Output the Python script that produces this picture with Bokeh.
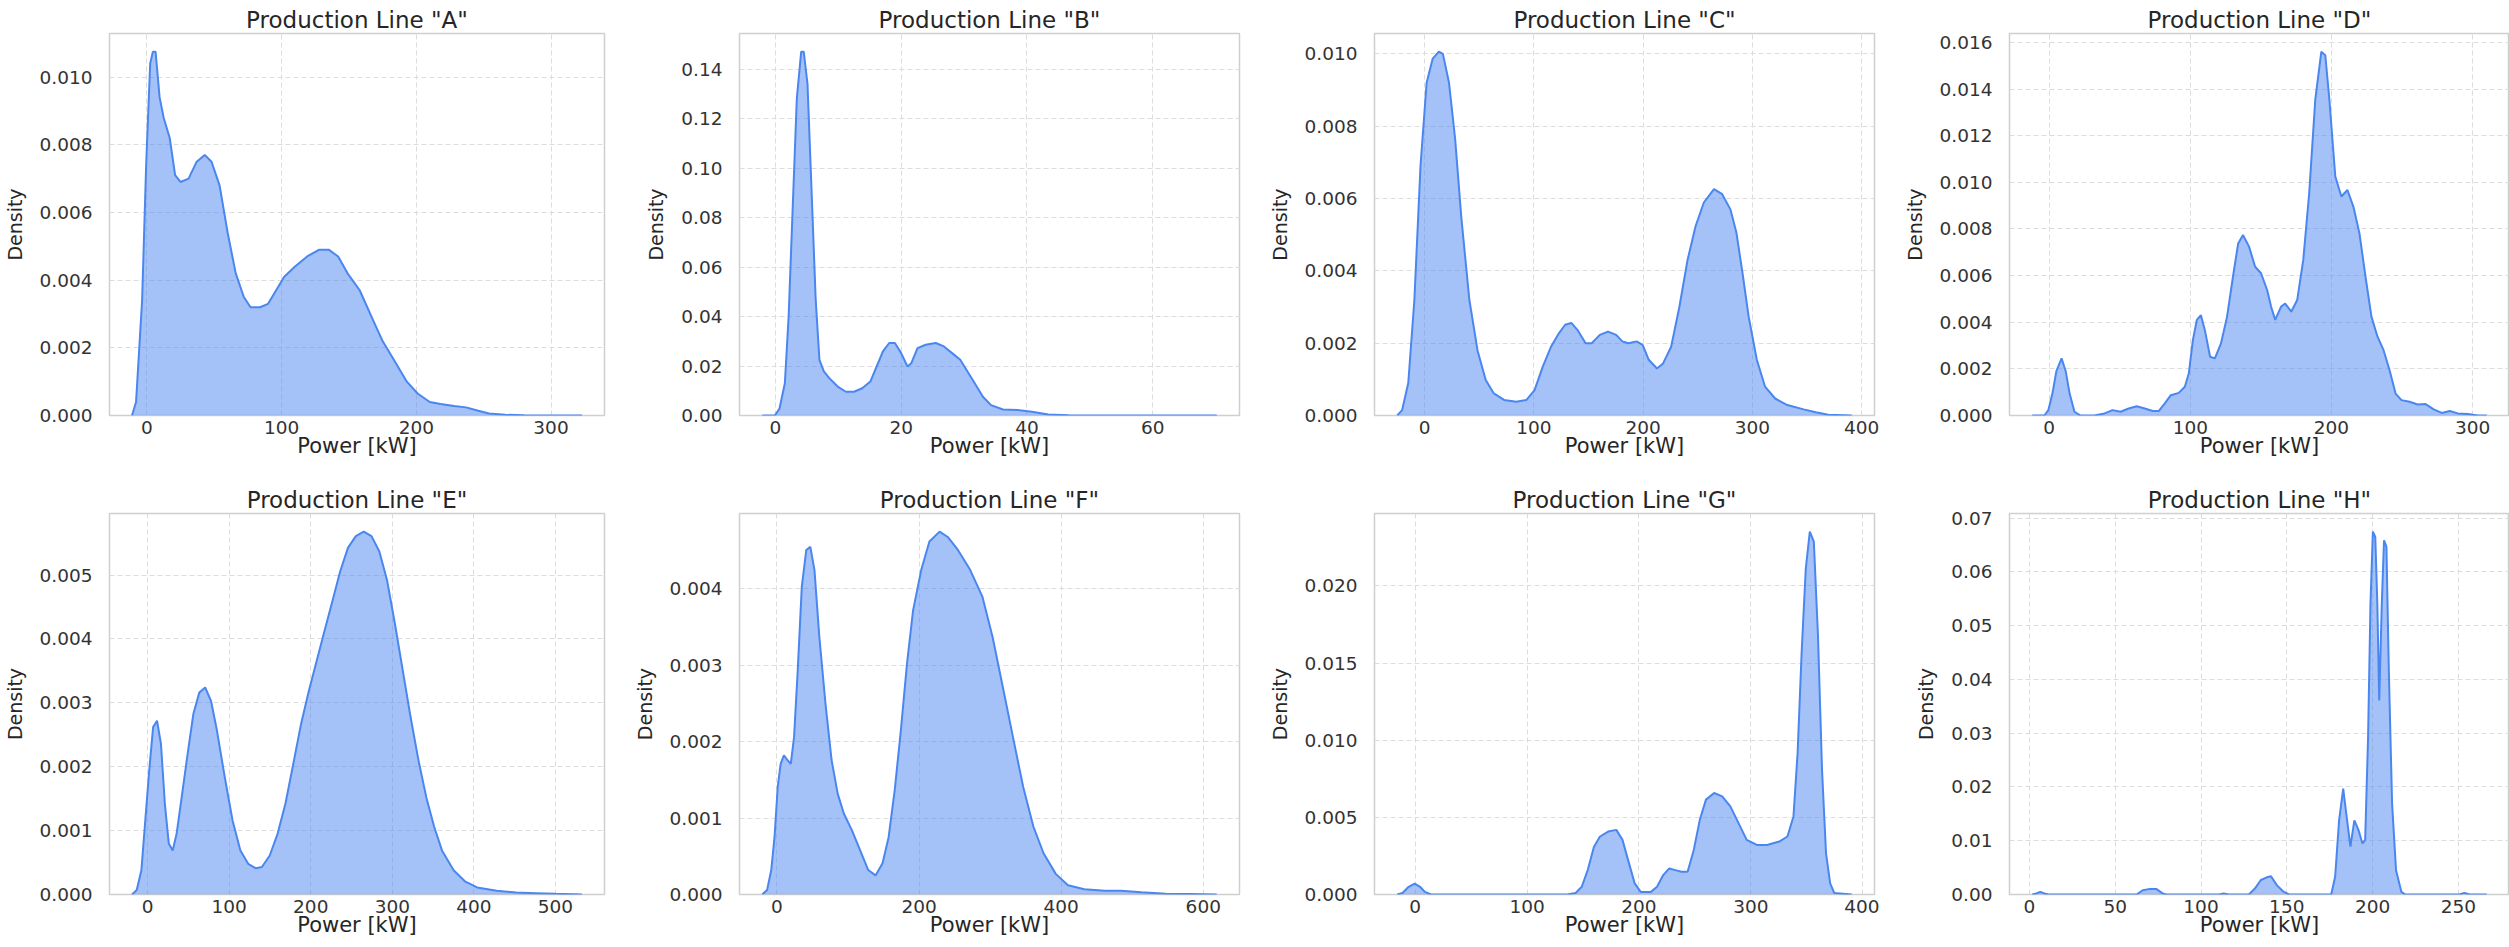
from bokeh.plotting import figure
from bokeh.layouts import column, row
from bokeh.models import Range1d, FixedTicker, PrintfTickFormatter
from bokeh.embed import file_html
from bokeh.resources import INLINE

# ---------------- data ----------------
lines = ["A", "B", "C", "D", "E", "F", "G", "H"]

A_power = [-11, -8, -3.5, -0.5, 2.5, 4.5, 6.5, 9.5, 12.5, 17, 21, 25, 31, 37, 43, 48, 54, 60, 66, 72,
           77, 84, 90, 96, 102, 110, 119, 128, 135, 142, 149, 158, 167, 175, 184, 193, 201, 210, 218,
           228, 237, 246, 254, 266, 280, 300, 323]
A_density = [0, 0.0004, 0.0034, 0.0074, 0.0104, 0.01075, 0.01075, 0.0094, 0.0088, 0.0082, 0.0071,
             0.0069, 0.0070, 0.0075, 0.0077, 0.0075, 0.0068, 0.0054, 0.0042, 0.0035, 0.0032, 0.0032,
             0.0033, 0.0037, 0.0041, 0.0044, 0.0047, 0.0049, 0.0049, 0.0047, 0.0042, 0.0037, 0.0029,
             0.0022, 0.0016, 0.0010, 0.00065, 0.0004, 0.00034, 0.00028, 0.00024, 0.00014, 0.00006,
             0.00002, 0.00001, 0, 0]

B_power = [-2.1, -0.1, 0.65, 1.5, 2.1, 2.8, 3.4, 4.1, 4.5, 5.1, 5.7, 6.4, 7.0, 7.7, 8.6, 9.9, 11.2,
           12.5, 13.8, 15.1, 16.1, 17.1, 18.1, 19.0, 20, 21, 21.6, 22.6, 23.9, 25.5, 26.8, 28.1, 29.4,
           30.4, 31.7, 33.0, 34.3, 36.2, 38.5, 40.8, 43.4, 46.6, 53, 70.2]
B_density = [0, 0, 0.0028, 0.013, 0.040, 0.0875, 0.128, 0.147, 0.147, 0.134, 0.094, 0.047, 0.0225,
             0.0178, 0.015, 0.0117, 0.0096, 0.0096, 0.011, 0.0137, 0.0198, 0.0259, 0.0293, 0.0293,
             0.0252, 0.0198, 0.0211, 0.0272, 0.0286, 0.0293, 0.0279, 0.0252, 0.0225, 0.0184, 0.013,
             0.0076, 0.0042, 0.0024, 0.0022, 0.0015, 0.0004, 0.0001, 0, 0]

C_power = [-25, -20.5, -14.9, -9.3, -3.7, 1.9, 7.5, 13.1, 16.8, 22.4, 28, 33.6, 41, 48.5, 56, 63.4,
           72.8, 84, 93.3, 100.7, 108.2, 115.7, 123.1, 128.7, 134.3, 139.9, 147.4, 153, 160.4, 167.9,
           175.4, 181, 186.6, 194, 199.6, 205.2, 212.7, 218.3, 225.7, 233.2, 240.7, 248.1, 255.6,
           264.9, 272.4, 279.9, 285.4, 291, 296.6, 304.1, 311.6, 320.9, 332, 347, 358, 369.4, 391]
C_density = [0, 0.00015, 0.0009, 0.0032, 0.0069, 0.0092, 0.00987, 0.01006, 0.0100, 0.0092, 0.00765,
             0.0055, 0.0032, 0.0018, 0.00098, 0.00061, 0.00043, 0.00038, 0.00043, 0.0007, 0.00135,
             0.0019, 0.00228, 0.00251, 0.00256, 0.00237, 0.0020, 0.0020, 0.00223, 0.00232, 0.00223,
             0.00205, 0.0020, 0.00205, 0.00195, 0.00154, 0.0013, 0.00144, 0.0019, 0.0030, 0.0043,
             0.00524, 0.00589, 0.00626, 0.00612, 0.0057, 0.00506, 0.00394, 0.00274, 0.00154, 0.0008,
             0.00047, 0.00029, 0.00017, 0.00009, 0.00002, 0]

D_power = [-12, -3.4, -0.6, 2.3, 5.1, 8.8, 11.7, 14.5, 17.9, 22.2, 32, 39.2, 44.9, 50.6, 56.3, 62,
           67.7, 73.4, 77.6, 81.9, 86.2, 91.8, 96.1, 98.9, 101.8, 104.6, 107.5, 110.3, 114, 117.4,
           121.7, 126, 130.2, 133.9, 137.3, 141.6, 145.9, 150.1, 154.4, 157.2, 160.1, 164.3, 167.2,
           171.5, 175.7, 180, 184.2, 188.5, 192.8, 195.6, 198.5, 202.7, 207, 211.3, 215.5, 219.8,
           224.1, 228.3, 232.6, 236.9, 241.1, 245.4, 249.6, 255.3, 261, 266.7, 272.4, 278.1, 283.8,
           289.5, 296.6, 303.7, 310]
D_density = [0, 0, 0.00023, 0.00094, 0.0019, 0.00245, 0.0019, 0.00094, 0.00016, 0, 0, 0.00009,
             0.00023, 0.00016, 0.0003, 0.0004, 0.0003, 0.00019, 0.00019, 0.00052, 0.00087, 0.00097,
             0.00123, 0.0018, 0.00323, 0.0041, 0.0043, 0.00366, 0.00252, 0.00245, 0.00309, 0.00423,
             0.00595, 0.00738, 0.00774, 0.00724, 0.00638, 0.0061, 0.00538, 0.00467, 0.0041, 0.00467,
             0.0048, 0.00445, 0.00495, 0.00667, 0.00953, 0.01354, 0.0156, 0.01545, 0.01354, 0.01025,
             0.00939, 0.00967, 0.00896, 0.00781, 0.00595, 0.00424, 0.00338, 0.0028, 0.00195, 0.00094,
             0.00066, 0.00059, 0.00047, 0.00049, 0.00026, 0.00011, 0.00019, 0.00009, 0.00006, 0, 0]

E_power = [-19.2, -13.4, -7.7, -2.9, 1.9, 6.7, 11.5, 16.3, 21.1, 25.9, 30.7, 35.5, 41.7, 49, 56.1,
           63.3, 70.5, 77.7, 84.9, 94.5, 104.1, 113.7, 123.3, 132.9, 140.1, 149.7, 159.3, 168.9,
           178.5, 188.1, 197.7, 207.3, 216.9, 226.5, 236.1, 245.7, 255.3, 264.9, 274.5, 284.1, 293.7,
           303.3, 312.9, 322.5, 332.1, 341.7, 351.3, 360.9, 375.2, 389.6, 404, 428, 452, 476, 500,
           532.6]
E_density = [0, 0.00007, 0.00038, 0.00116, 0.00194, 0.00262, 0.00272, 0.00236, 0.00142, 0.0008,
             0.00069, 0.00095, 0.00152, 0.0022, 0.00283, 0.00316, 0.00324, 0.00303, 0.00257, 0.00184,
             0.00116, 0.00069, 0.00048, 0.00041, 0.00043, 0.00061, 0.00095, 0.00142, 0.00204,
             0.00267, 0.00319, 0.00366, 0.00413, 0.00459, 0.00506, 0.00543, 0.00561, 0.00568,
             0.00561, 0.00537, 0.00491, 0.00423, 0.0035, 0.00277, 0.0021, 0.00152, 0.00106, 0.00069,
             0.00038, 0.0002, 0.00011, 0.00006, 0.00003, 0.00002, 0.00001, 0]

F_power = [-20.7, -13.8, -8, -3.4, 1.1, 5.2, 9.8, 14.9, 19.5, 24.1, 29.3, 35, 41.3, 47, 52.8, 59.7,
           68.3, 76.9, 85.5, 94.1, 105.6, 117, 128.5, 138.8, 148.6, 157.2, 165.8, 174.4, 183, 191.6,
           203.1, 214.6, 228.9, 240.4, 254.7, 271.9, 289.1, 303.5, 317.8, 332.2, 346.5, 360.9, 375.2,
           392.4, 409.6, 432.6, 461.3, 484.2, 512.9, 547.3, 581.7, 619]
F_density = [0, 0.00006, 0.00032, 0.00075, 0.00141, 0.00171, 0.00182, 0.00176, 0.00171, 0.00206,
             0.00294, 0.00403, 0.00451, 0.00455, 0.00425, 0.00337, 0.0025, 0.00176, 0.00132, 0.00106,
             0.00084, 0.00058, 0.00032, 0.00025, 0.00041, 0.00075, 0.00137, 0.00215, 0.00302,
             0.00372, 0.00425, 0.00462, 0.00475, 0.00468, 0.00451, 0.00425, 0.0039, 0.00337, 0.00272,
             0.00206, 0.00141, 0.00089, 0.00054, 0.00027, 0.00012, 0.00007, 0.00005, 0.00005,
             0.00003, 0.00001, 0.000005, 0]

G_power = [-16, -11.3, -5.8, -0.4, 4.4, 8.7, 14.2, 136, 143.4, 148.9, 154.3, 159.8, 165.2, 172.5,
           179.8, 185.3, 190.7, 196.2, 201.6, 210.7, 216.2, 221.7, 227.1, 232.6, 238, 243.5, 249,
           254.4, 259.9, 267.2, 274.4, 281.7, 289, 296.3, 305.4, 314.5, 325.4, 332.7, 338.1, 341.8,
           345.4, 349.1, 352.7, 356.3, 360, 363.6, 367.2, 370.9, 374.5, 390.2]
G_density = [0, 0.0001, 0.0005, 0.0007, 0.0005, 0.00017, 0, 0, 0.0001, 0.0005, 0.0016, 0.0031,
             0.00376, 0.00408, 0.00419, 0.00354, 0.00213, 0.00072, 0.00017, 0.00017, 0.0005, 0.00126,
             0.00169, 0.00158, 0.00148, 0.00148, 0.00289, 0.00484, 0.00615, 0.00658, 0.00636, 0.00571,
             0.00463, 0.00354, 0.00321, 0.00321, 0.00343, 0.00376, 0.00506, 0.00919, 0.0157, 0.02113,
             0.02352, 0.02287, 0.01679, 0.0081, 0.00267, 0.00072, 0.0001, 0]

H_power = [1.6, 4, 6.3, 8.7, 11, 62.4, 66, 69.5, 74.1, 77.6, 80, 110.4, 113.2, 116.2, 127.9, 131.4,
           134.9, 138.4, 140.8, 144.3, 147.8, 151.3, 175.9, 178.2, 180.5, 182.9, 184.7, 187.1, 189.4,
           191.8, 194.1, 195.7, 197.4, 198.8, 200.2, 201.6, 202.8, 203.9, 205.4, 206.7, 208.1, 209.5,
           211.4, 213.7, 216.8, 219.1, 250.7, 253.5, 256.5, 266.6]
H_density = [0, 0.0002, 0.0005, 0.0002, 0, 0, 0.0008, 0.001, 0.001, 0.0002, 0, 0, 0.0002, 0, 0,
             0.0011, 0.0027, 0.0032, 0.0034, 0.0017, 0.0006, 0, 0, 0.0033, 0.0138, 0.0197, 0.015,
             0.0089, 0.0138, 0.012, 0.0095, 0.0101, 0.0293, 0.0541, 0.0675, 0.0665, 0.0541, 0.0361,
             0.0541, 0.0659, 0.0647, 0.0417, 0.0169, 0.0045, 0.0005, 0, 0, 0.0003, 0, 0]

# tick values per panel
x_ticks = {
    "A": [0, 100, 200, 300], "B": [0, 20, 40, 60], "C": [0, 100, 200, 300, 400],
    "D": [0, 100, 200, 300], "E": [0, 100, 200, 300, 400, 500], "F": [0, 200, 400, 600],
    "G": [0, 100, 200, 300, 400], "H": [0, 50, 100, 150, 200, 250],
}
y_ticks = {
    "A": [0, 0.002, 0.004, 0.006, 0.008, 0.010],
    "B": [0, 0.02, 0.04, 0.06, 0.08, 0.10, 0.12, 0.14],
    "C": [0, 0.002, 0.004, 0.006, 0.008, 0.010],
    "D": [0, 0.002, 0.004, 0.006, 0.008, 0.010, 0.012, 0.014, 0.016],
    "E": [0, 0.001, 0.002, 0.003, 0.004, 0.005],
    "F": [0, 0.001, 0.002, 0.003, 0.004],
    "G": [0, 0.005, 0.010, 0.015, 0.020],
    "H": [0, 0.01, 0.02, 0.03, 0.04, 0.05, 0.06, 0.07],
}
y_label_format = {"A": "%.3f", "B": "%.2f", "C": "%.3f", "D": "%.3f",
                  "E": "%.3f", "F": "%.3f", "G": "%.3f", "H": "%.2f"}

series = {
    "A": (A_power, A_density), "B": (B_power, B_density), "C": (C_power, C_density),
    "D": (D_power, D_density), "E": (E_power, E_density), "F": (F_power, F_density),
    "G": (G_power, G_density), "H": (H_power, H_density),
}

# ---------------- styling ----------------
LINE = "#4a86f0"
FRAME_W = 500
FONT = "DejaVu Sans"


def make_panel(name, col, top_row):
    xs, ys = series[name]
    span = max(xs) - min(xs)
    xr = Range1d(min(xs) - 0.05 * span, max(xs) + 0.05 * span)
    yr = Range1d(0, 1.05 * max(ys))

    left = 104 if col == 0 else 130
    right = 0 if col == 3 else 5
    if top_row:
        top, frame_h, bottom = 33, 382, 53
    else:
        top, frame_h, bottom = 45, 381, 53

    p = figure(width=left + FRAME_W + right, height=top + frame_h + bottom,
               x_range=xr, y_range=yr, output_backend="svg", toolbar_location=None,
               min_border_left=left, min_border_right=right,
               min_border_top=top, min_border_bottom=bottom,
               title='Production Line "%s"' % name)
    p.title.align = "center"
    p.title.text_font = FONT
    p.title.text_font_size = "23px"
    p.title.text_font_style = "normal"
    p.title.text_color = "#262626"
    p.title.standoff = 2

    p.varea(x=xs, y1=[0] * len(xs), y2=ys, fill_color=LINE, fill_alpha=0.5)
    p.line(x=xs, y=ys, line_color=LINE, line_width=2)

    p.background_fill_color = "white"
    p.border_fill_color = "white"
    p.outline_line_color = "#cfcfcf"
    p.outline_line_width = 1.5

    for g in (p.xgrid, p.ygrid):
        g.grid_line_color = "#dcdcdc"
        g.grid_line_dash = "5 3"
        g.grid_line_width = 1

    p.xaxis.ticker = FixedTicker(ticks=x_ticks[name])
    p.yaxis.ticker = FixedTicker(ticks=y_ticks[name])
    p.xaxis.formatter = PrintfTickFormatter(format="%d")
    p.yaxis.formatter = PrintfTickFormatter(format=y_label_format[name])

    for ax in (p.xaxis, p.yaxis):
        ax.axis_line_color = None
        ax.major_tick_line_color = None
        ax.minor_tick_line_color = None
        ax.major_tick_out = 0
        ax.major_tick_in = 0
        ax.major_label_text_font = FONT
        ax.major_label_text_font_size = "18.5px"
        ax.major_label_text_color = "#333333"
        ax.axis_label_text_font_style = "normal"
        ax.axis_label_text_color = "#262626"

    p.xaxis.axis_label = "Power [kW]"
    p.xaxis.axis_label_text_font = FONT
    p.xaxis.axis_label_text_font_size = "21px"
    p.xaxis.major_label_standoff = 5
    p.xaxis.axis_label_standoff = -3

    p.yaxis.axis_label = "Density"
    p.yaxis.axis_label_text_font = FONT
    p.yaxis.axis_label_text_font_size = "19px"
    p.yaxis.major_label_standoff = 17
    p.yaxis.axis_label_standoff = 11
    return p


top_panels = [make_panel(n, i, True) for i, n in enumerate(lines[:4])]
bottom_panels = [make_panel(n, i, False) for i, n in enumerate(lines[4:])]

layout = column(row(*top_panels, spacing=0), row(*bottom_panels, spacing=0), spacing=0)

open("out.html", "w").write(file_html(layout, INLINE))
